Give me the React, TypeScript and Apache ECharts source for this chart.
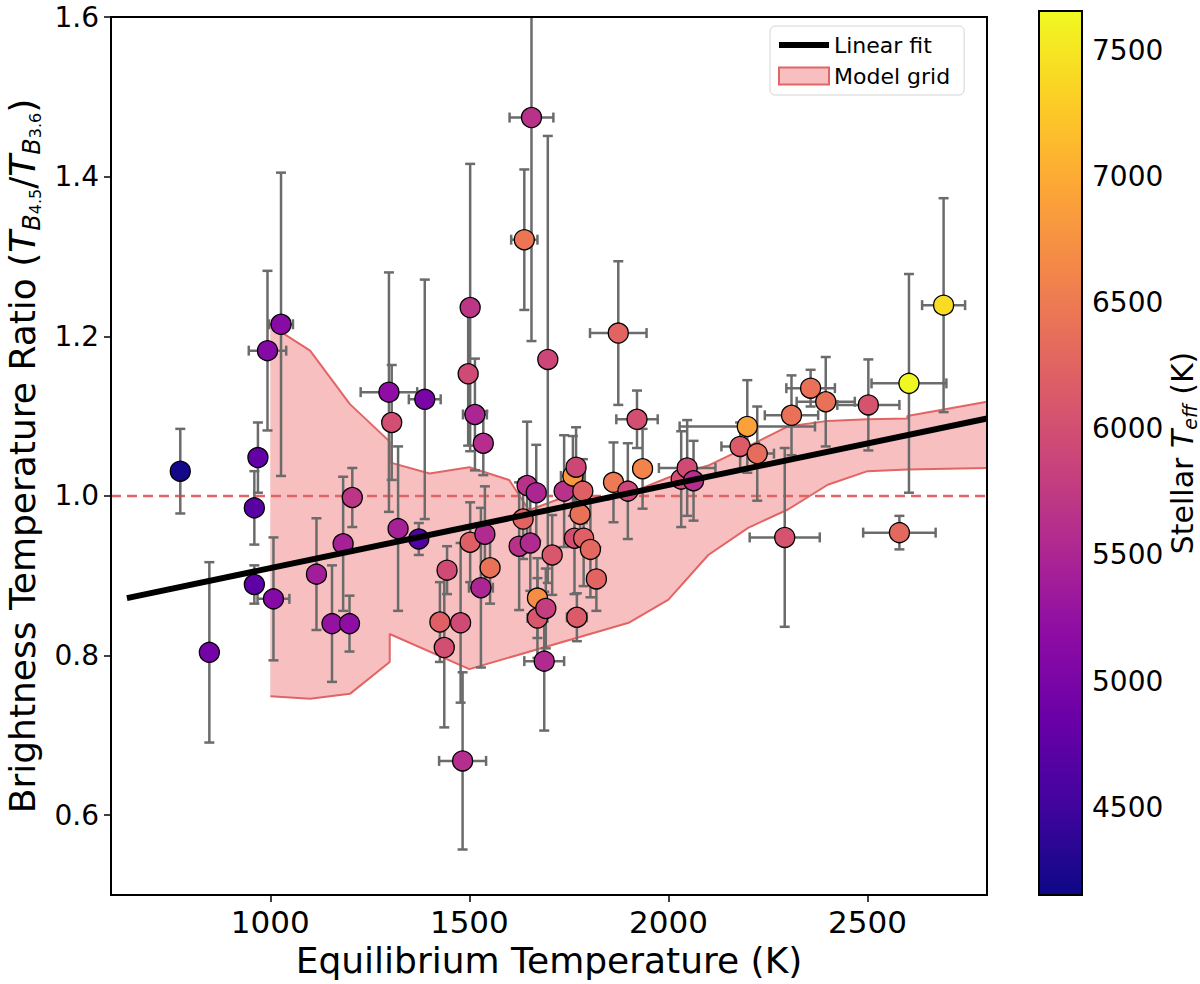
import { useEffect, useRef } from 'react';
import * as echarts from 'echarts';

// equilibrium temperature (K), brightness temperature ratio, errors, stellar Teff
const teq = [
  774, 847, 960, 969, 960, 993, 1008, 1027, 1116, 1155, 1183, 1199, 1206, 1298, 1305, 1321, 1373, 1388,
  1426, 1437, 1444, 1478, 1483, 1497, 1502, 1502, 1514, 1529, 1535, 1539, 1552, 1625, 1635, 1638, 1645,
  1653, 1656, 1668, 1671, 1671, 1688, 1692, 1697, 1708, 1738, 1760, 1764, 1768, 1770, 1778, 1785, 1787,
  1804, 1819, 1862, 1874, 1898, 1921, 1935, 2032, 2047, 2063, 2180, 2198, 2223, 2292, 2309, 2357, 2395,
  2502, 2580, 2604, 2691,
];
const ratio = [
  1.031, 0.804, 0.985, 1.048, 0.889, 1.182, 0.871, 1.215, 0.902, 0.84, 0.94, 0.84, 0.998, 1.13, 1.092, 0.959, 0.946, 1.121,
  0.842, 0.81, 0.907, 0.841, 0.668, 1.153, 1.236, 0.942, 1.102, 0.885, 1.066, 0.952, 0.91, 0.937, 0.971, 1.321, 1.013,
  0.941, 1.474, 1.004, 0.872, 0.847, 0.793, 0.859, 1.171, 0.926, 1.006, 1.025, 0.947, 1.036, 0.848, 0.977, 1.006, 0.947,
  0.933, 0.896, 1.017, 1.204, 1.006, 1.096, 1.034, 1.021, 1.035, 1.019, 1.062, 1.087, 1.053, 0.948, 1.101, 1.135, 1.118,
  1.114, 0.954, 1.141, 1.239,
];
const ratioErr = [
  0.053, 0.113, 0.046, 0.044, 0.024, 0.1, 0.077, 0.19, 0.07, 0.073, 0.084, 0.035, 0.037, 0.15, 0.072, 0.103, 0.02, 0.15,
  0.05, 0.1, 0.03, 0.1, 0.111, 0.09, 0.18, 0.05, 0.07, 0.1, 0.04, 0.06, 0.045, 0.08, 0.05, 0.088, 0.08,
  0.06, 0.28, 0.06, 0.05, 0.05, 0.087, 0.05, 0.28, 0.05, 0.07, 0.05, 0.07, 0.05, 0.03, 0.03, 0.04, 0.06,
  0.06, 0.04, 0.05, 0.09, 0.06, 0.036, 0.05, 0.06, 0.06, 0.05, 0.03, 0.058, 0.059, 0.112, 0.05, 0.023, 0.056,
  0.057, 0.021, 0.137, 0.134,
];
const teqErr = [
  0, 0, 0, 0, 12, 47, 40, 30, 20, 20, 18, 10, 15, 71, 15, 0, 15, 40,
  20, 20, 12, 15, 59, 12, 15, 20, 30, 30, 17, 17, 20, 15, 15, 33, 15,
  15, 55, 15, 15, 25, 50, 15, 18, 15, 20, 30, 15, 20, 25, 15, 20, 15,
  15, 20, 20, 71, 15, 52, 20, 20, 71, 20, 47, 170, 42, 88, 67, 61, 73,
  78, 91, 94, 54,
];
const teff = [
  4200, 4950, 4700, 4800, 4750, 5100, 5100, 5150, 5400, 5250, 5450, 5200, 5700, 5200, 6000, 5450, 4650, 5000,
  6200, 6000, 5950, 5950, 5600, 5950, 5700, 6200, 5500, 5500, 5600, 5550, 6400, 5650, 6250, 6450, 5650,
  5550, 5650, 5500, 6700, 6100, 5550, 5800, 5900, 6100, 5650, 6800, 6000, 5900, 6150, 6400, 6200, 6200,
  6300, 6250, 6500, 6250, 5900, 6000, 6600, 6000, 5950, 5600, 6150, 6900, 6350, 6050, 6400, 6400, 6400,
  6050, 6300, 7650, 7400,
];

// model grid envelope
const modelUpper = [
  [1000, 1.214], [1100, 1.182], [1200, 1.115], [1300, 1.068], [1300, 1.042], [1400, 1.028], [1500, 1.036],
  [1600, 1.02], [1650, 0.982], [1740, 0.999], [1850, 0.995], [1915, 1.006], [2000, 1.023], [2100, 1.038],
  [2200, 1.062], [2300, 1.087], [2400, 1.094], [2500, 1.096], [2600, 1.097], [2600, 1.1], [2800, 1.118],
];
const modelLower = [
  [1000, 0.749], [1100, 0.746], [1200, 0.752], [1300, 0.792], [1300, 0.827], [1500, 0.783], [1900, 0.841],
  [2000, 0.87], [2100, 0.926], [2200, 0.96], [2300, 0.983], [2400, 1.014], [2500, 1.031], [2600, 1.033],
  [2800, 1.035],
];

const fitLine = [[640, 0.872], [2800, 1.097]];
const unityLine = [[600, 1.0], [2800, 1.0]];

const xTicks = [1000, 1500, 2000, 2500];
const yTicks = [0.6, 0.8, 1.0, 1.2, 1.4, 1.6];
const cbTicks = [4500, 5000, 5500, 6000, 6500, 7000, 7500];
const cbMin = 4153;
const cbMax = 7655;

const plasma = ['#0d0887', '#41049d', '#6a00a8', '#8f0da4', '#b12a90', '#cc4778', '#e16462', '#f2844b', '#fca636', '#fcce25', '#f0f921'];

const FONT = 'DejaVu Sans';
const ERR_COLOR = '#6b6b6b';
const GRID_EDGE = '#e36464';

export default function App() {
  const chartRef = useRef<HTMLDivElement>(null);

  useEffect(() => {
    if (!chartRef.current) return;
    const chart = echarts.init(chartRef.current, null, { renderer: 'svg' });

    const points = teq.map((t, i) => [t, ratio[i], teff[i]]);
    const errRows = teq.map((t, i) => [t, ratio[i], ratioErr[i], teqErr[i]]);

    const option: any = {
      animation: false,
      textStyle: { fontFamily: FONT },
      grid: [
        {
          left: 111, top: 17, width: 876, height: 878, outerBoundsMode: 'none', containLabel: false,
          show: true, borderColor: '#000', borderWidth: 2, backgroundColor: 'transparent', z: 10,
        },
        { left: 1039, top: 11, width: 43, height: 884, outerBoundsMode: 'none', containLabel: false },
      ],
      legend: {
        orient: 'vertical',
        left: 770,
        top: 26,
        padding: [8, 14, 8, 8],
        backgroundColor: '#fff',
        borderColor: '#d4d4d4',
        borderWidth: 1,
        borderRadius: 5,
        itemWidth: 50,
        itemHeight: 17,
        itemGap: 9,
        z: 20,
        textStyle: { fontFamily: FONT, fontSize: 22, color: '#000' },
        data: [
          { name: 'Linear fit', icon: 'path://M0,0h50v6h-50z' },
          { name: 'Model grid', icon: 'rect' },
        ],
      },
      visualMap: {
        type: 'continuous',
        show: false,
        min: cbMin,
        max: cbMax,
        dimension: 2,
        seriesIndex: 5,
        inRange: { color: plasma },
      },
      xAxis: [
        {
          type: 'value',
          gridIndex: 0,
          min: 600,
          max: 2800,
          axisLine: { show: false },
          axisTick: { show: true, customValues: xTicks, length: 7, lineStyle: { color: '#000', width: 1.5 } },
          axisLabel: {
            customValues: xTicks, fontSize: 31, color: '#000', margin: 11, fontFamily: FONT,
            formatter: (v: number) => String(v),
          },
          splitLine: { show: false },
          name: 'Equilibrium Temperature (K)',
          nameLocation: 'middle',
          nameGap: 47,
          nameTextStyle: { fontSize: 36, color: '#000', fontFamily: FONT },
        },
        { type: 'value', gridIndex: 1, min: 0, max: 1, show: false },
      ],
      yAxis: [
        {
          type: 'value',
          gridIndex: 0,
          min: 0.5,
          max: 1.6,
          axisLine: { show: false },
          axisTick: { show: true, customValues: yTicks, length: 7, lineStyle: { color: '#000', width: 1.5 } },
          axisLabel: {
            customValues: yTicks,
            fontSize: 28,
            lineHeight: 22,
            color: '#000',
            margin: 12,
            fontFamily: FONT,
            formatter: (v: number) => v.toFixed(1),
          },
          splitLine: { show: false },
          name: '{a|Brightness Temperature Ratio (}{i|T}{s|B}{ss|4.5}{a|/}{i|T}{s|B}{ss|3.6}{a|)}',
          nameLocation: 'middle',
          nameRotate: 90,
          nameGap: 66,
          nameTextStyle: {
            color: '#000',
            fontFamily: FONT,
            rich: {
              a: { fontSize: 36, lineHeight: 42, fontFamily: FONT, color: '#000' },
              i: { fontSize: 36, lineHeight: 42, fontStyle: 'italic', fontFamily: FONT, color: '#000' },
              s: { fontSize: 24, lineHeight: 20, fontStyle: 'italic', verticalAlign: 'bottom', fontFamily: FONT, color: '#000' },
              ss: { fontSize: 16, lineHeight: 12, verticalAlign: 'bottom', fontFamily: FONT, color: '#000' },
            },
          },
        },
        {
          type: 'value',
          gridIndex: 1,
          position: 'right',
          min: cbMin,
          max: cbMax,
          axisLine: { show: false },
          axisTick: { show: true, customValues: cbTicks, length: 7, lineStyle: { color: '#000', width: 1.5 } },
          axisLabel: {
            customValues: cbTicks, fontSize: 28, color: '#000', margin: 10, fontFamily: FONT,
            formatter: (v: number) => String(v),
          },
          splitLine: { show: false },
          name: '{a|Stellar }{i|T}{s|eff}{a| (K)}',
          nameLocation: 'middle',
          nameRotate: 90,
          nameGap: 80,
          nameTextStyle: {
            color: '#000',
            fontFamily: FONT,
            rich: {
              a: { fontSize: 30, lineHeight: 34, fontFamily: FONT, color: '#000' },
              i: { fontSize: 30, lineHeight: 34, fontStyle: 'italic', fontFamily: FONT, color: '#000' },
              s: { fontSize: 19, lineHeight: 16, fontStyle: 'italic', verticalAlign: 'bottom', fontFamily: FONT, color: '#000' },
            },
          },
        },
      ],
      series: [
        {
          name: 'Model grid',
          type: 'custom',
          xAxisIndex: 0,
          yAxisIndex: 0,
          z: 1,
          clip: true,
          itemStyle: { color: 'rgba(240,128,128,0.5)', borderColor: GRID_EDGE, borderWidth: 1 },
          data: [[0]],
          renderItem: (_params: any, api: any) => {
            const pts = modelUpper.map((p) => api.coord(p));
            const low = modelLower.slice().reverse().map((p) => api.coord(p));
            return {
              type: 'polygon',
              shape: { points: pts.concat(low) },
              style: { fill: 'rgba(240,128,128,0.5)', stroke: 'none' },
            };
          },
        },
        {
          name: 'upper',
          type: 'line',
          data: modelUpper,
          symbol: 'none',
          z: 2,
          lineStyle: { color: GRID_EDGE, width: 2 },
        },
        {
          name: 'lower',
          type: 'line',
          data: modelLower,
          symbol: 'none',
          z: 2,
          lineStyle: { color: GRID_EDGE, width: 2 },
        },
        {
          name: 'unity',
          type: 'line',
          data: unityLine,
          symbol: 'none',
          z: 2,
          lineStyle: { color: GRID_EDGE, width: 2.5, type: [10, 6] },
        },
        {
          name: 'errors',
          type: 'custom',
          xAxisIndex: 0,
          yAxisIndex: 0,
          z: 3,
          clip: true,
          data: errRows,
          renderItem: (_params: any, api: any) => {
            const x = api.value(0);
            const y = api.value(1);
            const ey = api.value(2);
            const ex = api.value(3);
            const style = { stroke: ERR_COLOR, lineWidth: 2.5 };
            const cap = 5;
            const top = api.coord([x, y + ey]);
            const bot = api.coord([x, y - ey]);
            const children: any[] = [
              { type: 'line', shape: { x1: top[0], y1: top[1], x2: bot[0], y2: bot[1] }, style },
              { type: 'line', shape: { x1: top[0] - cap, y1: top[1], x2: top[0] + cap, y2: top[1] }, style },
              { type: 'line', shape: { x1: bot[0] - cap, y1: bot[1], x2: bot[0] + cap, y2: bot[1] }, style },
            ];
            if (ex > 0) {
              const l = api.coord([x - ex, y]);
              const r = api.coord([x + ex, y]);
              children.push(
                { type: 'line', shape: { x1: l[0], y1: l[1], x2: r[0], y2: r[1] }, style },
                { type: 'line', shape: { x1: l[0], y1: l[1] - cap, x2: l[0], y2: l[1] + cap }, style },
                { type: 'line', shape: { x1: r[0], y1: r[1] - cap, x2: r[0], y2: r[1] + cap }, style },
              );
            }
            return { type: 'group', children };
          },
        },
        {
          name: 'planets',
          type: 'scatter',
          data: points,
          symbolSize: 20,
          z: 4,
          itemStyle: { borderColor: '#000', borderWidth: 1.3, opacity: 1 },
        },
        {
          name: 'Linear fit',
          type: 'line',
          data: fitLine,
          symbol: 'none',
          z: 5,
          itemStyle: { color: '#000' },
          lineStyle: { color: '#000', width: 6 },
        },
        {
          name: 'colorbar',
          type: 'custom',
          xAxisIndex: 1,
          yAxisIndex: 1,
          data: [[0, cbMin, 1, cbMax]],
          renderItem: (_params: any, api: any) => {
            const p0 = api.coord([api.value(0), api.value(1)]);
            const p1 = api.coord([api.value(2), api.value(3)]);
            const stops = plasma.map((c, i) => ({ offset: i / (plasma.length - 1), color: c }));
            return {
              type: 'rect',
              shape: { x: p0[0], y: p1[1], width: p1[0] - p0[0], height: p0[1] - p1[1] },
              style: {
                fill: new echarts.graphic.LinearGradient(0, 1, 0, 0, stops),
                stroke: '#000',
                lineWidth: 2,
              },
            };
          },
        },
      ],
    };

    chart.setOption(option);
    return () => chart.dispose();
  }, []);

  return <div ref={chartRef} style={{ position: 'absolute', left: 0, top: 0, width: 1200, height: 984 }} />;
}
